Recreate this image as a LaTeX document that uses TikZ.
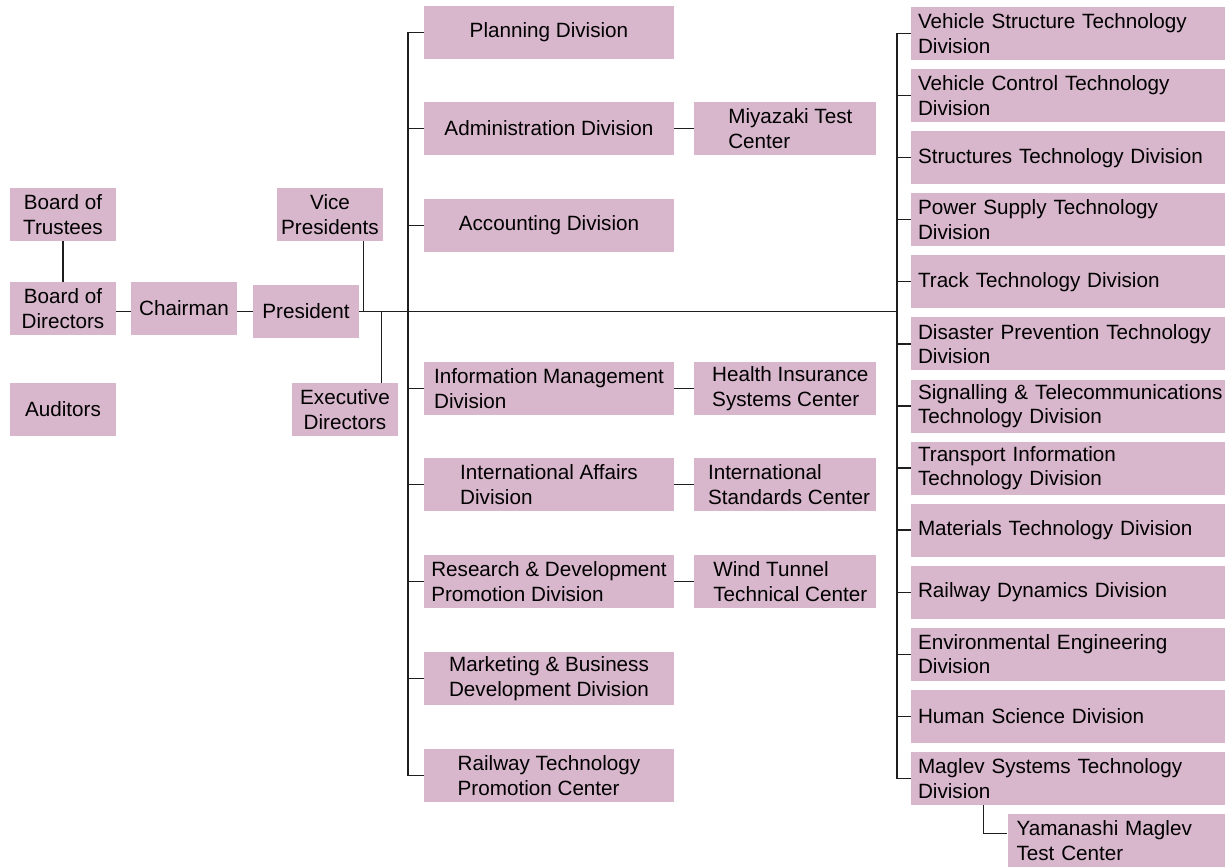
\documentclass[tikz,border=0pt]{standalone}
\usepackage{fontspec}
\setmainfont{Liberation Sans}
\usetikzlibrary{calc}
\definecolor{boxc}{RGB}{216,182,204}
\definecolor{linec}{RGB}{30,30,30}
\begin{document}
\begin{tikzpicture}[x=0.75pt,y=-0.75pt,
  every node/.style={font=\fontsize{15.5pt}{18.4pt}\selectfont},
  box/.style={fill=boxc, inner sep=0pt, minimum height=39.75pt},
  lbox/.style={box, minimum width=79.5pt, align=center},
  mbox/.style={box, minimum width=187.5pt, align=left},
  sbox/.style={box, minimum width=136.5pt, align=left},
  rbox/.style={box, inner xsep=5.25pt, text width=225pt, align=left},
  ybox/.style={box, inner xsep=6.75pt, text width=150pt, align=left},
  conn/.style={draw=linec, line width=1pt}]
\useasboundingbox (0,0) rectangle (1225,867);

% left part
\node[lbox] (bot) at (63,214.5) {Board of\\Trustees};
\node[lbox] (bod) at (63,308.5) {Board of\\Directors};
\node[lbox] (aud) at (63,409.5) {Auditors};
\node[lbox] (chair) at (184,308.5) {Chairman};
\node[lbox] (pres) at (306,311.5) {President};
\node[lbox] (vp) at (330,214.5) {Vice\\Presidents};
\node[lbox] (ed) at (345,409.5) {Executive\\Directors};

% middle column
\node[mbox] (plan) at (549,32.5) {Planning Division};
\node[mbox] (adm) at (549,128.5) {Administration Division};
\node[mbox] (acc) at (549,225.5) {Accounting Division};
\node[mbox] (inf) at (549,388.5) {Information Management\\Division};
\node[mbox] (ia) at (549,484.5) {International Affairs\\Division};
\node[mbox] (rd) at (549,581.5) {Research \& Development\\Promotion Division};
\node[mbox] (mk) at (549,678.5) {Marketing \& Business\\Development Division};
\node[mbox] (rtp) at (549,775.5) {Railway Technology\\Promotion Center};

% side centers
\node[sbox] (miy) at (785,128.5) {\hspace*{8pt}Miyazaki Test\\\hspace*{8pt}Center};
\node[sbox] (his) at (785,388.5) {\hspace*{8pt}Health Insurance\\\hspace*{8pt}Systems Center};
\node[sbox] (isc) at (785,484.5) {\hspace*{6pt}International\\\hspace*{6pt}Standards Center};
\node[sbox] (wtc) at (785,581.5) {\hspace*{8pt}Wind Tunnel\\\hspace*{8pt}Technical Center};

% right column
\node[rbox] (r1) at (1068,33.5) {\mbox{Vehicle Structure Technology}\\Division};
\node[rbox] (r2) at (1068,95.6) {\mbox{Vehicle Control Technology}\\Division};
\node[rbox] (r3) at (1068,157.7) {\mbox{Structures Technology Division}};
\node[rbox] (r4) at (1068,219.7) {\mbox{Power Supply Technology}\\Division};
\node[rbox] (r5) at (1068,281.8) {\mbox{Track Technology Division}};
\node[rbox] (r6) at (1068,343.9) {\mbox{Disaster Prevention Technology}\\Division};
\node[rbox] (r7) at (1068,406.0) {\mbox{Signalling \& Telecommunications}\\\mbox{Technology Division}};
\node[rbox] (r8) at (1068,468.1) {\mbox{Transport Information}\\\mbox{Technology Division}};
\node[rbox] (r9) at (1068,530.1) {\mbox{Materials Technology Division}};
\node[rbox] (r10) at (1068,592.2) {\mbox{Railway Dynamics Division}};
\node[rbox] (r11) at (1068,654.3) {\mbox{Environmental Engineering}\\Division};
\node[rbox] (r12) at (1068,716.4) {\mbox{Human Science Division}};
\node[rbox] (mag) at (1068,778.5) {\mbox{Maglev Systems Technology}\\Division};
\node[ybox] (yam) at (1116.5,840.5) {\mbox{Yamanashi Maglev}\\\mbox{Test Center}};

% coordinates
\coordinate (mt) at (408,311.5);
\coordinate (rt) at (897,311.5);
\coordinate (vpb) at ($(vp.south east)+(-20,0)$);
\coordinate (edt) at ($(ed.north east)+(-17,0)$);
\coordinate (mb) at ($(mag.south west)+(73,0)$);
\coordinate (yw) at ($(yam.north west)+(0,20)$);

% connectors left
\draw[conn] (bot.south) -- (bod.north);
\draw[conn] (bod.east |- pres.east) -- (chair.west |- pres.east);
\draw[conn] (chair.east |- pres.west) -- (pres.west);
\draw[conn] (pres.east) -- (rt);
\draw[conn] (vpb) -- (vpb |- pres.east);
\draw[conn] (edt) -- (edt |- pres.east);

% middle trunk
\draw[conn] (plan.west) -- (plan.west -| mt) -- (rtp.west -| mt) -- (rtp.west);
\foreach \n in {adm,acc,inf,ia,rd,mk} {\draw[conn] (\n.west -| mt) -- (\n.west);}
\draw[conn] (adm.east) -- (miy.west |- adm.east);
\draw[conn] (inf.east) -- (his.west |- inf.east);
\draw[conn] (ia.east) -- (isc.west |- ia.east);
\draw[conn] (rd.east) -- (wtc.west |- rd.east);

% right trunk
\draw[conn] (r1.west) -- (r1.west -| rt) -- (mag.west -| rt) -- (mag.west);
\foreach \n in {r2,r3,r4,r5,r6,r7,r8,r9,r10,r11,r12} {\draw[conn] (\n.west -| rt) -- (\n.west);}
\draw[conn] (mb) |- (yw);
\end{tikzpicture}
\end{document}
